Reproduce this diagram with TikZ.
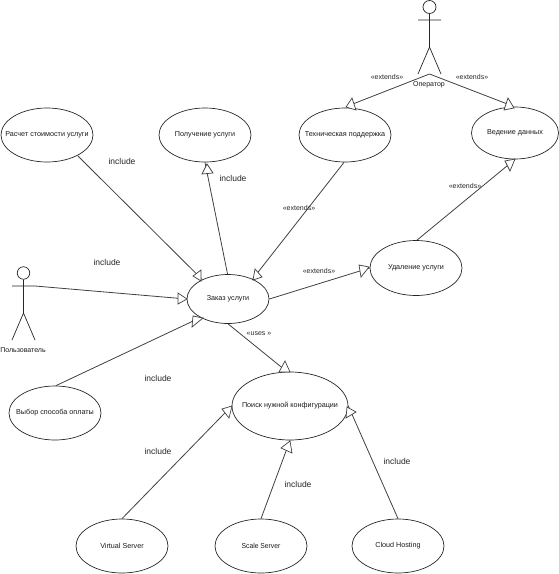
\documentclass[tikz,border=0pt]{standalone}
\usepackage{fontspec}
\usepackage{graphicx}
\setmainfont{Liberation Sans}
\usetikzlibrary{shapes.geometric}
\newcommand\hollowtri[3]{\draw[tristyle] (#1) -- (#2) -- (#3) -- cycle;}
\newcommand\uctext[2][1]{\makebox[0pt]{\scalebox{#1}[1]{#2}}}
\tikzset{
  usecase/.style={draw=black!85,line width=0.7pt,ellipse,inner sep=0pt,font=\fontsize{7.2}{9}\selectfont,text=black!90},
  std/.style={usecase,minimum width=92pt,minimum height=54pt},
  conn/.style={draw=black!75,line width=0.8pt},
  tristyle/.style={draw=black!75,line width=0.7pt,fill=white,line join=miter},
  stereo/.style={font=\fontsize{7}{8}\selectfont,text=black!85,inner sep=0pt},
  incl/.style={font=\fontsize{8.5}{10}\selectfont,text=black!85,inner sep=0pt},
  actorname/.style={font=\fontsize{7}{8}\selectfont,text=black!90,inner sep=0pt},
  head/.style={circle,draw=black!85,line width=0.7pt,inner sep=0pt},
  limb/.style={draw=black!85,line width=0.7pt}
}
\begin{document}
\begin{tikzpicture}[x=1pt,y=-1pt]
\useasboundingbox (0,0) rectangle (559,574);
% use cases
\node[std] (raschet) at (47,135) {\uctext{Расчет стоимости услуги}};
\node[std] (poluch) at (205,135) {\uctext{Получение услуги}};
\node[std] (tech) at (345,135) {\uctext{Техническая поддержка}};
\node[usecase,minimum width=87pt,minimum height=52pt] (veden) at (515,133) {\uctext{Ведение данных}};
\node[usecase,minimum width=92pt,minimum height=55pt] (udal) at (416,268) {\uctext{Удаление услуги}};
\node[usecase,minimum width=82pt,minimum height=49pt] (zakaz) at (228,299) {\uctext{Заказ услуги}};
\node[std] (vybor) at (55,413) {\uctext{Выбор способа оплаты}};
\node[usecase,minimum width=116pt,minimum height=68pt] (poisk) at (290,406) {\uctext{Поиск нужной конфигурации}};
\node[std] (virt) at (122,546) {\uctext{Virtual Server}};
\node[std] (scale) at (261,546) {\uctext[0.94]{Scale Server}};
\node[std] (cloud) at (398,546) {\uctext{Cloud Hosting}};
% actor: operator
\node[head,minimum size=13pt] (ophead) at (429.5,7) {};
\coordinate (opneck) at (429.5,20);
\coordinate (oparml) at (418,20);
\coordinate (oparmr) at (441,20);
\coordinate (ophip) at (429.5,47);
\coordinate (oplegl) at (418,74);
\coordinate (oplegr) at (441,74);
\coordinate (opapex) at (429.5,74);
\draw[limb] (ophead.south) -- (ophip) (oparml) -- (oparmr) (oplegl) -- (ophip) -- (oplegr);
\node[actorname] (opname) at (429,84.5) {Оператор};
% actor: user
\node[head,minimum size=12.5pt] (ushead) at (23.5,273) {};
\coordinate (usarml) at (12,286);
\coordinate (usarmr) at (35,286);
\coordinate (uship) at (23.5,313);
\coordinate (uslegl) at (12,340);
\coordinate (uslegr) at (35,340);
\draw[limb] (ushead.south) -- (uship) (usarml) -- (usarmr) (uslegl) -- (uship) -- (uslegr);
\node[actorname] (usname) at (23,350) {Пользователь};
% connectors
\coordinate (techin) at (349,105.5);
\coordinate (vedin) at (510,105);
\draw[conn] (opapex) -- (techin);
\draw[conn] (opapex) -- (vedin);
\draw[conn] (raschet.-34) -- (zakaz.143);
\draw[conn] (zakaz.91) -- (poluch.south);
\draw[conn] (tech.-92) -- (zakaz.39);
\draw[conn] (usarmr) -- (zakaz.west);
\draw[conn] (vybor.88) -- (zakaz.214);
\draw[conn] (zakaz.east) -- (udal.west);
\draw[conn] (udal.88) -- (veden.south);
\draw[conn] (zakaz.south) -- (poisk.95);
\draw[conn] (virt.north) -- (poisk.west);
\draw[conn] (scale.north) -- (poisk.south);
\draw[conn] (cloud.north) -- (poisk.east);
% hollow arrow heads
\hollowtri{352,98}{346,107}{356,110}
\hollowtri{508,98}{504,110}{514,108}
\hollowtri{201,270}{193,276}{201,281}
\hollowtri{207,164}{202,174}{213,173}
\hollowtri{253,280}{255,269}{262,277}
\hollowtri{178,293}{187,299}{178,304}
\hollowtri{192,327}{193,316}{203,318}
\hollowtri{359,265}{369,267}{361,277}
\hollowtri{505,161}{515,159}{510,171}
\hollowtri{285,361}{279,372}{290,372}
\hollowtri{232,406}{222,409}{229,418}
\hollowtri{290,441}{281,448}{292,453}
\hollowtri{347,407}{346,418}{356,412}
% labels
\node[stereo] (l1) at (387,77) {«extends»};
\node[stereo] (l2) at (472,77) {«extends»};
\node[stereo] (l3) at (299,208) {«extends»};
\node[stereo] (l4) at (465,186) {«extends»};
\node[stereo] (l5) at (319,271) {«extends»};
\node[stereo] (l6) at (259,334) {«uses »};
\node[incl] (i1) at (122,161) {include};
\node[incl] (i2) at (233,178) {include};
\node[incl] (i3) at (107,262) {include};
\node[incl] (i4) at (158,378) {include};
\node[incl] (i5) at (158,451) {include};
\node[incl] (i6) at (298,484) {include};
\node[incl] (i7) at (397,461) {include};
\end{tikzpicture}
\end{document}
